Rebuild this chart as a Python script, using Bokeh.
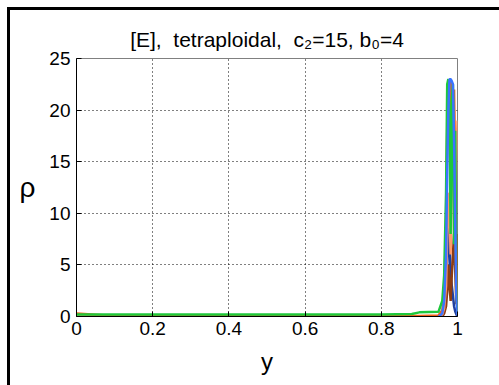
from bokeh.plotting import figure
from bokeh.models import FixedTicker
from bokeh.layouts import column
from bokeh.embed import file_html
from bokeh.resources import INLINE

# ---- data ----
ypos = [0.0, 0.1, 0.2, 0.3, 0.4, 0.5, 0.6, 0.7, 0.8, 0.88, 0.9, 0.95, 0.96, 0.965,
        0.97, 0.973, 0.976, 0.979, 0.982, 0.985, 0.988, 0.991, 0.994, 0.997, 1.0]
rho_orange = [0.3, 0.05, 0.05, 0.05, 0.05, 0.05, 0.05, 0.05, 0.05, 0.05, 0.05, 0.1, 0.6, 2.0,
              9.0, 18.0, 22.0, 20.0, 23.0, 21.0, 15.0, 22.0, 12.0, 4.0, 0.2]
rho_green = [0.2, 0.2, 0.2, 0.2, 0.2, 0.2, 0.2, 0.2, 0.2, 0.25, 0.4, 0.45, 1.5, 4.0,
             12.0, 22.5, 23.0, 19.0, 8.0, 21.0, 22.5, 7.0, 18.0, 3.0, 0.3]
rho_blue = [-0.1, -0.1, -0.1, -0.1, -0.1, -0.1, -0.1, -0.1, -0.1, -0.1, -0.1, -0.05, 0.3, 1.5,
            6.0, 14.0, 20.0, 23.0, 23.0, 22.8, 22.5, 17.0, 9.0, 2.0, 0.1]
rho_salmon = [0.0, 0.0, 0.0, 0.0, 0.0, 0.0, 0.0, 0.0, 0.0, 0.0, 0.0, 0.0, 0.2, 0.8,
              3.0, 8.0, 12.0, 10.0, 6.0, 12.5, 18.0, 20.0, 9.5, 15.0, 19.0]
rho_brown = [0.0, 0.0, 0.0, 0.0, 0.0, 0.0, 0.0, 0.0, 0.0, 0.0, 0.0, 0.0, 0.0, 0.3,
             1.0, 2.5, 5.0, 3.0, 1.5, 4.0, 6.0, 8.0, 4.5, 1.2, 8.0]
rho_navy = [-0.2, -0.2, -0.2, -0.2, -0.2, -0.2, -0.2, -0.2, -0.2, -0.2, -0.2, -0.2, 0.1, 0.5,
            2.0, 5.0, 9.0, 7.0, 4.0, 3.0, 2.0, 1.0, 0.5, 0.2, 0.0]

series = [
    (rho_navy, "#1f3f9f"),
    (rho_brown, "#8c3c14"),
    (rho_salmon, "#ff9a6a"),
    (rho_orange, "#f26418"),
    (rho_green, "#1ec83c"),
    (rho_blue, "#3a74ff"),
]

xticks = [0, 0.2, 0.4, 0.6, 0.8, 1]
yticks = [0, 5, 10, 15, 20, 25]

title_text = "[E],\u00a0\u00a0tetraploidal,\u00a0\u00a0c\u2082=15, b\u2080=4"
y_label = "\u03c1"
x_label = "y"

FONT = "Liberation Sans"

# canvas sits at (10,10) of the window inside the framed column
OFF = 10
FL, FR, FT, FB = 76, 457, 58, 316   # frame edges in window pixels
W, H = 499 - OFF, 385 - OFF

p = figure(width=W, height=H, output_backend="svg", toolbar_location=None,
           x_range=(0, 1), y_range=(0, 25),
           min_border_left=FL - OFF, min_border_right=499 - FR,
           min_border_top=FT - OFF, min_border_bottom=385 - FB)

for vals, col in series:
    p.line(ypos, vals, line_color=col, line_width=2.5)

p.title.text = title_text
p.title.align = "center"
p.title.text_font = FONT
p.title.text_font_size = "21px"
p.title.text_font_style = "normal"
p.title.text_color = "black"
p.title.standoff = 16

for ax in (p.xaxis, p.yaxis):
    ax.major_label_text_font = FONT
    ax.major_label_text_font_size = "19px"
    ax.major_label_text_color = "black"
    ax.major_tick_in = 5
    ax.major_tick_out = 0
    ax.minor_tick_line_color = None
    ax.axis_line_color = "black"
    ax.major_tick_line_color = "black"

p.xaxis.ticker = FixedTicker(ticks=xticks)
p.yaxis.ticker = FixedTicker(ticks=yticks)
p.xaxis.major_label_standoff = 5
p.yaxis.major_label_standoff = 6

p.xaxis.axis_label = x_label
p.xaxis.axis_label_text_font = FONT
p.xaxis.axis_label_text_font_size = "24px"
p.xaxis.axis_label_text_font_style = "normal"
p.xaxis.axis_label_text_color = "black"
p.xaxis.axis_label_standoff = 10

p.yaxis.axis_label = y_label
p.yaxis.axis_label_text_font = FONT
p.yaxis.axis_label_text_font_size = "28px"
p.yaxis.axis_label_text_font_style = "normal"
p.yaxis.axis_label_text_color = "black"
p.yaxis.axis_label_orientation = "horizontal"
p.yaxis.axis_label_standoff = 11

p.xgrid.ticker = FixedTicker(ticks=xticks)
p.ygrid.ticker = FixedTicker(ticks=yticks)
for g in (p.xgrid, p.ygrid):
    g.grid_line_color = "black"
    g.grid_line_dash = "1 3"
    g.grid_line_width = 1

p.outline_line_color = "#808080"
p.outline_line_width = 1
p.background_fill_color = "white"
p.border_fill_color = "white"

lay = column(p, margin=(7, 0, 0, 7),
             styles={"border-left": "3px solid black", "border-top": "3px solid black"})

open("out.html", "w").write(file_html(lay, INLINE))
